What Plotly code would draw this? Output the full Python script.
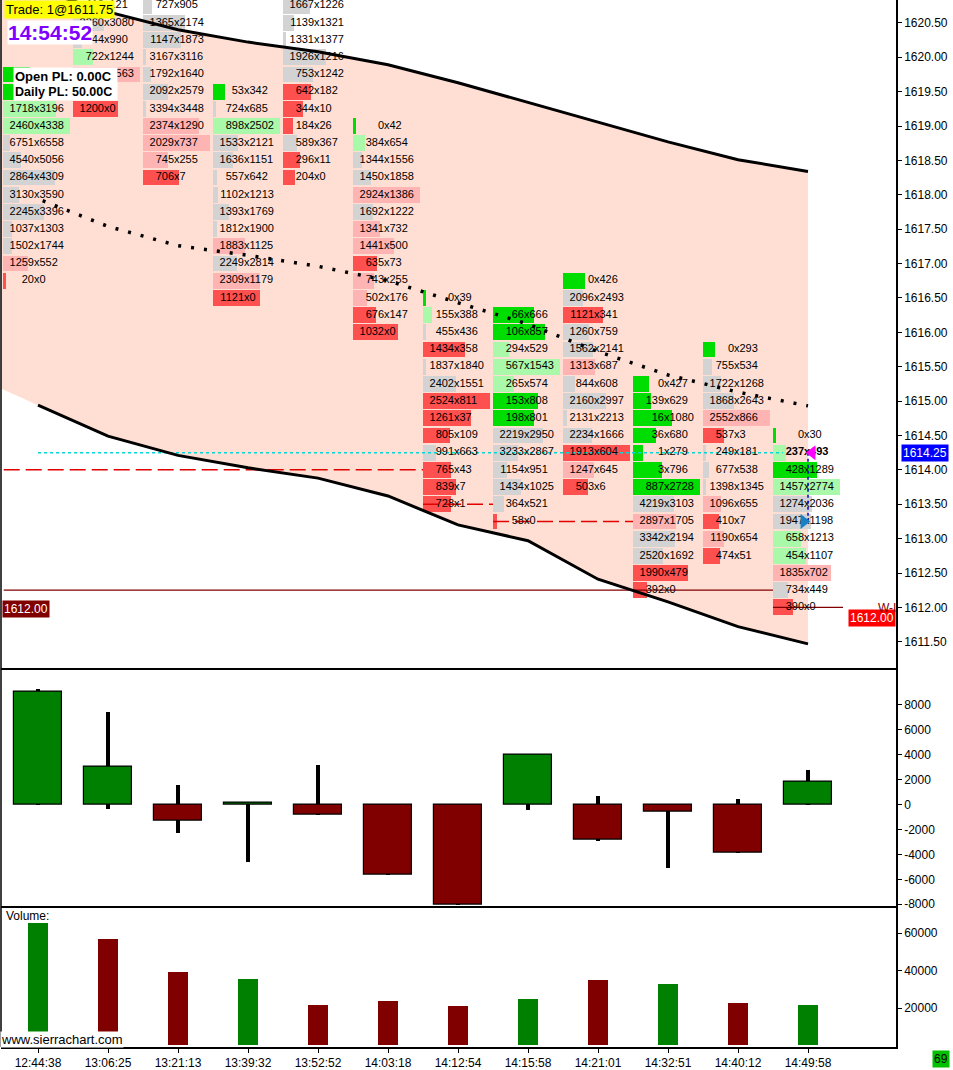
import plotly.graph_objects as go
from plotly.subplots import make_subplots

# ---- data -------------------------------------------------------------
times = ["12:44:38", "13:06:25", "13:21:13", "13:39:32", "13:52:52", "14:03:18",
         "14:12:54", "14:15:58", "14:21:01", "14:32:51", "14:40:12", "14:49:58"]

# footprint: highest price row of each bar, then bid x ask rows going down by 0.25
fp_top = [1619.75, 1620.75, 1620.75, 1619.50, 1621.00, 1619.00,
          1616.50, 1616.25, 1616.75, 1615.25, 1615.75, 1614.50]
fp_bid = [
    [214, 178, 1718, 2460, 6751, 4540, 2864, 3130, 2245, 1037, 1502, 1259, 20],
    [112, 2260, 744, 722, 3340, 1052, 1200],
    [727, 1365, 1147, 3167, 1792, 2092, 3394, 2374, 2029, 745, 706],
    [53, 724, 898, 1533, 1636, 557, 1102, 1393, 1812, 1883, 2249, 2309, 1121],
    [1890, 1667, 1139, 1331, 1926, 753, 642, 344, 184, 589, 296, 204],
    [0, 384, 1344, 1450, 2924, 1692, 1341, 1441, 635, 743, 502, 676, 1032],
    [0, 155, 455, 1434, 1837, 2402, 2524, 1261, 805, 991, 765, 839, 728],
    [66, 106, 294, 567, 265, 153, 198, 2219, 3233, 1154, 1434, 364, 58],
    [0, 2096, 1121, 1260, 1562, 1313, 844, 2160, 2131, 2234, 1913, 1247, 503],
    [0, 139, 16, 36, 1, 3, 887, 4219, 2897, 3342, 2520, 1990, 392],
    [0, 755, 1722, 1868, 2552, 537, 249, 677, 1398, 1096, 410, 1190, 474],
    [0, 237, 428, 1457, 1274, 1947, 658, 454, 1835, 734, 390],
]
fp_ask = [
    [971, 935, 3196, 4338, 6558, 5056, 4309, 3590, 3396, 1303, 1744, 552, 0],
    [121, 3080, 990, 1244, 1563, 9, 0],
    [905, 2174, 1873, 3116, 1640, 2579, 3448, 1290, 737, 255, 7],
    [342, 685, 2502, 2121, 1151, 642, 1213, 1769, 1900, 1125, 2814, 1179, 0],
    [790, 1226, 1321, 1377, 1216, 1242, 182, 10, 26, 367, 11, 0],
    [42, 654, 1556, 1858, 1386, 1222, 732, 500, 73, 255, 176, 147, 0],
    [39, 388, 436, 358, 1840, 1551, 811, 37, 109, 663, 43, 7, 1],
    [666, 857, 529, 1543, 574, 808, 801, 2950, 2867, 951, 1025, 521, 0],
    [426, 2493, 341, 759, 2141, 687, 608, 2997, 2213, 1666, 604, 645, 6],
    [427, 629, 1080, 680, 279, 796, 2728, 3103, 1705, 2194, 1692, 479, 0],
    [293, 534, 1268, 2643, 866, 3, 181, 538, 1345, 655, 7, 654, 51],
    [30, 493, 1289, 2774, 2036, 1198, 1213, 1107, 702, 449, 0],
]
last_price = 1614.25

# price band (first value belongs to the bar before the visible window)
band_upper = [1621.30, 1620.98, 1620.66, 1620.40, 1620.22, 1620.08, 1619.89,
              1619.63, 1619.34, 1619.06, 1618.77, 1618.51, 1618.34]
band_lower = [1615.40, 1614.94, 1614.49, 1614.21, 1614.03, 1613.88, 1613.62,
              1613.20, 1612.97, 1612.41, 1612.08, 1611.72, 1611.47]
band_mid = [1617.94, 1617.54, 1617.26, 1617.12, 1616.96, 1616.75,
            1616.43, 1616.12, 1615.72, 1615.38, 1615.13, 1614.93]

# horizontal order / stop lines (price, from bar, to bar)
pos_levels, pos_from, pos_to = [1612.25, 1612.00], [-0.49, 10.5], [10.5, 11.5]
stop_levels, stop_from, stop_to = [1614.00, 1613.50, 1613.25], [-0.49, 5.5, 6.5], [5.5, 6.5, 8.5]
last_from, last_to = 0, 10.64
entry_price = 1613.25

# delta candles
delta_open = [0, 0, 0, 0, 0, 0, 0, 0, 0, 0, 0, 0]
delta_close = [9040, 3040, -1280, 160, -800, -5600, -8000, 3950, -2850, -590, -3870, 1810]
delta_high = [9280, 7440, 1600, 240, 3200, 0, 0, 3950, 670, 0, 480, 2800]
delta_low = [0, -320, -2240, -4560, -800, -5600, -8000, -450, -2930, -5040, -3870, 0]
delta_ticks = [-8000, -6000, -4000, -2000, 0, 2000, 4000, 6000, 8000]

volume = [65300, 56800, 39200, 35500, 21600, 23700, 21100, 24800, 34900, 32800, 22700, 21600]
vol_dir = ["up", "down", "down", "up", "down", "down", "down", "up", "down", "up", "down", "up"]
vol_ticks = [20000, 40000, 60000]

# ---- styling ----------------------------------------------------------
FONT = "Liberation Sans, Arial, sans-serif"
GREEN, RED = "#008000", "#800000"
STRONG_GREEN, LIGHT_GREEN, GREY = "#00dd00", "#aaf8aa", "#d3d3d3"
PINK, STRONG_RED = "#ffb4b4", "#ff5050"
BAND = "#ffdfd3"


def cell_color(b, a):
    lo, hi = min(b, a), max(b, a)
    ratio = hi / lo if lo else float("inf")
    if b == a or ratio < 1.667:
        return GREY
    if a > b:
        return STRONG_GREEN if ratio >= 3 else LIGHT_GREEN
    return STRONG_RED if ratio >= 3 else PINK


col_w = 67 / 70
min_w = 3 / 70
cy, cw, cb, cc = [], [], [], []
tx, ty, tbid, task = [], [], [], []
for i in range(len(times)):
    bids, asks = fp_bid[i], fp_ask[i]
    maxd = max(abs(b - a) for b, a in zip(bids, asks))
    left = i - 0.5
    for j, (b, a) in enumerate(zip(bids, asks)):
        price = fp_top[i] - 0.25 * j
        cy.append(price)
        cw.append(max(abs(b - a) / maxd * col_w, min_w))
        cb.append(left)
        cc.append(cell_color(b, a))
        tx.append(left + 31 / 70)
        ty.append(price)
        if i == len(times) - 1 and abs(price - last_price) < 1e-6:
            tbid.append("<b>%d</b>" % b)
            task.append("<b>x%d</b>" % a)
        else:
            tbid.append(str(b))
            task.append("x%d" % a)

fig = make_subplots(rows=3, cols=1, shared_xaxes=True, vertical_spacing=0,
                    row_heights=[669, 239, 141])

bars = list(range(len(times)))

# footprint cells
fig.add_trace(go.Bar(y=cy, x=cw, base=cb, orientation="h", width=0.23,
                     marker=dict(color=cc, line=dict(width=0)),
                     hoverinfo="skip"), row=1, col=1)


def hsegs(levels, x0s, x1s):
    xs, ys = [], []
    for lv, a, b in zip(levels, x0s, x1s):
        xs += [a, b, None]
        ys += [lv, lv, None]
    return xs, ys


xs, ys = hsegs(pos_levels, pos_from, pos_to)
fig.add_trace(go.Scatter(x=xs, y=ys, mode="lines", line=dict(color=RED, width=1.2),
                         hoverinfo="skip"), row=1, col=1)
xs, ys = hsegs(stop_levels, stop_from, stop_to)
fig.add_trace(go.Scatter(x=xs, y=ys, mode="lines",
                         line=dict(color="#e00000", width=1.5, dash="16px,6px"),
                         hoverinfo="skip"), row=1, col=1)
fig.add_trace(go.Scatter(x=[last_from, last_to], y=[last_price, last_price], mode="lines",
                         line=dict(color="#00d8d8", width=1.5, dash="dot"),
                         hoverinfo="skip"), row=1, col=1)

# band lines
fig.add_trace(go.Scatter(x=bars, y=band_upper[1:], mode="lines",
                         line=dict(color="black", width=3), hoverinfo="skip"), row=1, col=1)
fig.add_trace(go.Scatter(x=bars, y=band_lower[1:], mode="lines",
                         line=dict(color="black", width=3), hoverinfo="skip"), row=1, col=1)
fig.add_trace(go.Scatter(x=bars, y=band_mid, mode="lines",
                         line=dict(color="black", width=3.5, dash="0px,5px,3px,5px"),
                         hoverinfo="skip"), row=1, col=1)

# cell texts
fig.add_trace(go.Scatter(x=tx, y=ty, text=tbid, mode="text", textposition="middle left",
                         textfont=dict(family=FONT, size=11, color="black"),
                         hoverinfo="skip"), row=1, col=1)
fig.add_trace(go.Scatter(x=tx, y=ty, text=task, mode="text", textposition="middle right",
                         textfont=dict(family=FONT, size=11, color="black"),
                         hoverinfo="skip"), row=1, col=1)

# current bar markers
lb = len(times) - 1
fig.add_trace(go.Scatter(x=[lb, lb], y=[last_price, entry_price], mode="lines",
                         line=dict(color="#0000cc", width=1.5, dash="dot"),
                         hoverinfo="skip"), row=1, col=1)
fig.add_trace(go.Scatter(x=[lb + 0.06], y=[last_price], mode="markers",
                         marker=dict(symbol="triangle-left", size=13, color="#ff00ff"),
                         hoverinfo="skip"), row=1, col=1)
fig.add_trace(go.Scatter(x=[lb - 0.06], y=[entry_price], mode="markers",
                         marker=dict(symbol="triangle-right", size=13, color="#1a80c4"),
                         hoverinfo="skip"), row=1, col=1)

# delta candles: wicks as thin bars under the bodies
fig.add_trace(go.Bar(x=bars, y=[h - l for h, l in zip(delta_high, delta_low)],
                     base=delta_low, width=4 / 70,
                     marker=dict(color="black", line=dict(width=0)),
                     hoverinfo="skip"), row=2, col=1)
fig.add_trace(go.Bar(x=bars, y=[c - o for c, o in zip(delta_close, delta_open)],
                     base=delta_open, width=48 / 70,
                     marker=dict(color=[GREEN if c >= o else RED
                                        for c, o in zip(delta_close, delta_open)],
                                 line=dict(color="black", width=1.2)),
                     hoverinfo="skip"), row=2, col=1)

# volume
fig.add_trace(go.Bar(x=bars, y=volume, width=20 / 70,
                     marker=dict(color=[GREEN if d == "up" else RED for d in vol_dir],
                                 line=dict(width=0)),
                     hoverinfo="skip"), row=3, col=1)

# ---- layout -----------------------------------------------------------
W, H = 953, 1070
L, R, T, B = 1, 57, 0, 21
PW, PH = W - L - R, H - T - B


def px(p):
    return (p - L) / PW


def py(p):
    return (PH - p) / PH


fig.update_xaxes(range=[(L - 38) / 70, (L + PW - 38) / 70], showgrid=False,
                 zeroline=False, showline=True, linecolor="black", linewidth=1.5,
                 tickvals=bars, ticktext=times, ticks="", showticklabels=False,
                 fixedrange=True)
fig.update_xaxes(ticks="outside", ticklen=4, tickcolor="black", showticklabels=True,
                 tickfont=dict(family=FONT, size=12, color="black"), row=3, col=1)
fig.update_yaxes(side="right", showgrid=False, zeroline=False, showline=True,
                 linecolor="black", linewidth=1.5, ticks="outside", ticklen=4,
                 tickcolor="black", tickfont=dict(family=FONT, size=12, color="black"),
                 fixedrange=True)
fig.update_yaxes(range=[1611.5 - 26 / 68.9, 1611.5 + 643 / 68.9], dtick=0.5,
                 tick0=1611.5, tickformat=".2f", row=1, col=1)
fig.update_yaxes(range=[-8160, 10960], tickvals=delta_ticks,
                 ticktext=[str(v) for v in delta_ticks], row=2, col=1)
fig.update_yaxes(range=[-800, 74400], tickvals=vol_ticks,
                 ticktext=[str(v) for v in vol_ticks], row=3, col=1)

ann = [
    dict(x=px(4), y=py(0), text="Trade: 1@1611.75", bgcolor="#ffff00",
         font=dict(size=13, color="black"), borderpad=1),
    dict(x=px(7), y=py(20), text="<b>14:54:52</b>", bgcolor="white",
         font=dict(size=21, color="#7f00ff"), borderpad=0),
    dict(x=px(13), y=py(67), text="<b>Open PL: 0.00C</b>", bgcolor="white",
         font=dict(size=13, color="black"), width=101, align="left", borderpad=1),
    dict(x=px(13), y=py(83), text="<b>Daily PL: 50.00C</b>", bgcolor="white",
         font=dict(size=12.5, color="black"), width=101, align="left", borderpad=1),
    dict(x=px(2), y=py(601), text="1612.00", bgcolor=RED,
         font=dict(size=12, color="white"), borderpad=1),
    dict(x=px(896), y=py(610), text="1612.00", bgcolor="#ff0000", xanchor="right",
         font=dict(size=12, color="white"), borderpad=1),
    dict(x=px(897), y=py(601), text="W-I", xanchor="right",
         font=dict(size=12, color=RED), borderpad=0),
    dict(x=px(5), y=py(910), text="Volume:", font=dict(size=12, color="black"),
         borderpad=0),
    dict(x=px(0), y=py(1033), text="www.sierrachart.com", bgcolor="white",
         font=dict(size=13, color="black"), borderpad=0),
    dict(x=px(932), y=py(1052), text="69", bgcolor="#00c000",
         font=dict(size=12, color="black"), borderpad=1),
]
for a in ann:
    a.setdefault("xanchor", "left")
    a.update(xref="paper", yref="paper", yanchor="top", showarrow=False)
    a["font"]["family"] = FONT
ann.append(dict(x=px(901), xref="paper", y=last_price, yref="y", xanchor="left",
                yanchor="middle", text="1614.25", bgcolor="#0000ff", showarrow=False,
                font=dict(family=FONT, size=12, color="white"), borderpad=1))

# band fill as a path below the traces, plus the left border of the chart
bx = list(range(-1, len(times)))
pts = list(zip(bx, band_upper)) + list(zip(bx[::-1], band_lower[::-1]))
band_path = "M " + " L ".join("%s,%s" % p for p in pts) + " Z"
shapes = [
    dict(type="path", path=band_path, xref="x", yref="y", fillcolor=BAND,
         line=dict(width=0), layer="below"),
    dict(type="line", xref="paper", yref="paper", x0=0, x1=0, y0=0, y1=1,
         line=dict(color="black", width=1.5)),
]

fig.update_layout(width=W, height=H, margin=dict(l=L, r=R, t=T, b=B),
                  paper_bgcolor="white", plot_bgcolor="white", showlegend=False,
                  barmode="overlay", bargap=0, annotations=ann, shapes=shapes,
                  font=dict(family=FONT, size=12, color="black"))

fig.write_html("out.html", config={"displayModeBar": False},
               post_script="document.body.style.margin='0';document.body.style.padding='0';")
